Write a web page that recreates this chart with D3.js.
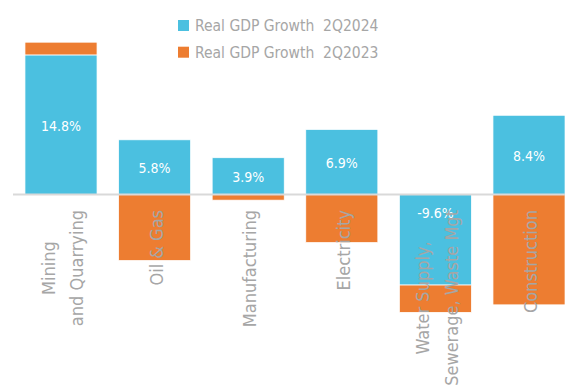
<!DOCTYPE html>
<html>
<head>
<meta charset="utf-8">
<script src="https://cdn.jsdelivr.net/npm/d3@7"></script>
<style>
	body { margin: 0; background: #fff; }
	svg { display: block; font-family: "DejaVu Sans Condensed", "DejaVu Sans", sans-serif; font-stretch: condensed; }
</style>
</head>
<body>
<svg id="chart" width="565" height="385"></svg>
<script>
	// sector labels, one entry per line
	var categories = [
		["Mining", "and Quarrying"],
		["Oil & Gas"],
		["Manufacturing"],
		["Electricity"],
		["Water Supply,", "Sewerage, Waste Mgt"],
		["Construction"]
	];
	var growth2024 = [14.8, 5.8, 3.9, 6.9, -9.6, 8.4];
	var growth2023 = [1.35, -7.0, -0.6, -5.1, -2.9, -11.7];
	var seriesNames = ["Real GDP Growth  2Q2024", "Real GDP Growth  2Q2023"];
	var seriesKeys = ["g2024", "g2023"];
	var colors = ["#4bc0e0", "#ed7d31"];

	var rows = categories.map(function (c, i) {
		return { id: i, g2024: growth2024[i], g2023: growth2023[i] };
	});

	var svg = d3.select("#chart");

	var x = d3.scaleBand()
		.domain(d3.range(categories.length))
		.range([14.2, 575.8])
		.paddingInner(0.23)
		.paddingOuter(0.115);

	var y = d3.scaleLinear()
		.domain([-16, 16])
		.range([345.4, 43.6]);

	var stack = d3.stack()
		.keys(seriesKeys)
		.offset(d3.stackOffsetDiverging);
	var stacked = stack(rows);

	var layers = svg.append("g")
		.selectAll("g")
		.data(stacked)
		.enter().append("g")
		.attr("fill", function (d, i) { return colors[i]; });

	layers.selectAll("rect")
		.data(function (d) { return d; })
		.enter().append("rect")
		.attr("x", function (d) { return x(d.data.id); })
		.attr("width", x.bandwidth())
		.attr("y", function (d) { return y(Math.max(d[0], d[1])); })
		.attr("height", function (d) { return Math.abs(y(d[0]) - y(d[1])); })
		.attr("stroke", "#fff")
		.attr("stroke-width", 0.75);

	// zero line
	svg.append("line")
		.attr("x1", 13)
		.attr("x2", 565)
		.attr("y1", y(0))
		.attr("y2", y(0))
		.attr("stroke", "#d9d9d9")
		.attr("stroke-width", 2);

	// value labels on the 2Q2024 bars
	svg.append("g")
		.selectAll("text")
		.data(rows)
		.enter().append("text")
		.attr("x", function (d) { return x(d.id) + x.bandwidth() / 2; })
		.attr("y", function (d) {
			return d.g2024 >= 0 ? (y(0) + y(d.g2024)) / 2 + 1 : y(0) + 18;
		})
		.attr("text-anchor", "middle")
		.attr("dominant-baseline", "central")
		.attr("fill", "#fff")
		.style("font-size", "14px")
		.text(function (d) { return d.g2024.toFixed(1) + "%"; });

	// rotated category labels, lines centred on the longest one
	var labelTop = 210;
	var lineGap = 28.7;
	var catG = svg.append("g")
		.attr("fill", "#a6a6a6")
		.style("font-size", "18px");

	categories.forEach(function (lines, i) {
		var cx = x(i) + x.bandwidth() / 2 + 1.5;
		var texts = lines.map(function (line, j) {
			var off = (j - (lines.length - 1) / 2) * lineGap;
			return catG.append("text")
				.attr("dominant-baseline", "central")
				.attr("text-anchor", "middle")
				.attr("data-x", cx + off)
				.text(line);
		});
		var maxLen = d3.max(texts, function (t) { return t.node().getComputedTextLength(); });
		var cy = labelTop + maxLen / 2;
		texts.forEach(function (t) {
			t.attr("transform", "translate(" + t.attr("data-x") + "," + cy + ") rotate(-90)");
		});
	});

	// legend
	var legend = svg.append("g")
		.selectAll("g")
		.data(seriesNames)
		.enter().append("g")
		.attr("transform", function (d, i) { return "translate(178," + (20 + i * 26.7) + ")"; });

	legend.append("rect")
		.attr("width", 11)
		.attr("height", 11)
		.attr("fill", function (d, i) { return colors[i]; });

	legend.append("text")
		.attr("x", 17)
		.attr("y", 11)
		.attr("fill", "#a6a6a6")
		.style("font-size", "15.5px")
		.style("white-space", "pre")
		.text(function (d) { return d; });
</script>
</body>
</html>
